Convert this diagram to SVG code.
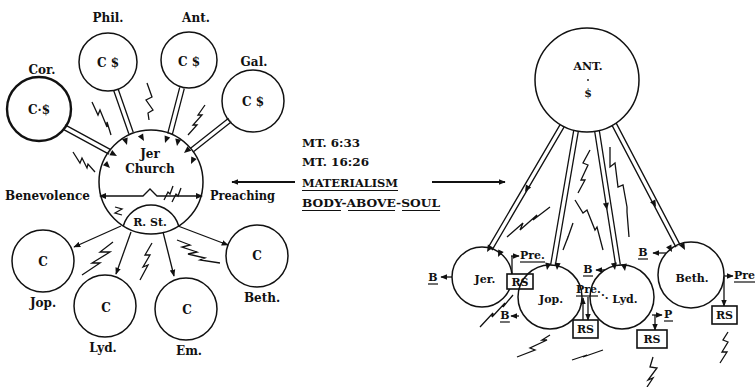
<svg xmlns="http://www.w3.org/2000/svg" xmlns:xlink="http://www.w3.org/1999/xlink" width="755" height="387" viewBox="0 0 755 387">
<style>
.t{font-family:"DejaVu Serif","Liberation Serif",serif;font-weight:bold;font-size:12px;fill:#111}
.s{font-size:11px}
.c{text-anchor:middle}
.n{fill:none;stroke:#111;stroke-width:1.5}
.pb{stroke:#111;stroke-width:6;fill:none}
.pw{stroke:#fff;stroke-width:3.4;fill:none}
.a{stroke:#111;stroke-width:1.3;fill:none;marker-end:url(#ah)}
.z{stroke:#111;stroke-width:1.3;fill:none;stroke-linejoin:miter}
.u{stroke:#111;stroke-width:1.2}
.box{fill:#fff;stroke:#111;stroke-width:1.6}
</style>
<defs>
<marker id="ah" viewBox="0 0 10 10" refX="9" refY="5" markerWidth="7" markerHeight="7" markerUnits="userSpaceOnUse" orient="auto"><path d="M0,1 L10,5 L0,9 Z" fill="#111"/></marker>
<path id="tri" d="M0,0 L-7,-3 L-7,3 Z" fill="#111"/>
</defs>

<g id="connectors">
  <!-- left pipes -->
  <path class="pb" d="M64,127 L110,152 M116,90 L131,133 M182,88 L170,134 M230,120 L192,150"/>
  <path class="pw" d="M64,127 L110,152 M116,90 L131,133 M182,88 L170,134 M230,120 L192,150"/>
  <use href="#tri" transform="translate(117,156) rotate(28)"/>
  <use href="#tri" transform="translate(110,168) rotate(45)"/>
  <use href="#tri" transform="translate(127,145) rotate(72)"/>
  <use href="#tri" transform="translate(144,141) rotate(60)"/>
  <use href="#tri" transform="translate(165,143) rotate(110)"/>
  <use href="#tri" transform="translate(177,146) rotate(100)"/>
  <use href="#tri" transform="translate(184,153) rotate(140)"/>
  <use href="#tri" transform="translate(191,164) rotate(115)"/>
  <!-- horizontal benevolence/preaching line -->
  <path class="z" d="M106,196 L143,196 L150,189 L157,196 L196,196"/>
  <use href="#tri" transform="translate(99,196) rotate(180)"/>
  <use href="#tri" transform="translate(203,196)"/>
  <!-- R.St arrows -->
  <line class="a" x1="121" y1="226" x2="74" y2="247"/>
  <line class="a" x1="131" y1="232" x2="116" y2="274"/>
  <line class="a" x1="163" y1="232" x2="174" y2="276"/>
  <line class="a" x1="178" y1="226" x2="228" y2="245"/>
  <!-- middle arrows -->
  <line class="a" x1="295" y1="182" x2="232" y2="182" style="stroke-width:1.8"/>
  <line class="a" x1="432" y1="182" x2="505" y2="182" style="stroke-width:1.8"/>
  <!-- right pipes -->
  <path class="pb" d="M562,126 L490,249 M576,131 L553,265 M597,131 L618,265 M614,124 L678,246"/>
  <path class="pw" d="M562,126 L490,249 M576,131 L553,265 M597,131 L618,265 M614,124 L678,246"/>
  <use href="#tri" transform="translate(525,192) rotate(120)"/>
  <use href="#tri" transform="translate(607,210) rotate(81)"/>
  <use href="#tri" transform="translate(656,207) rotate(62)"/>
  <use href="#tri" transform="translate(487,252) rotate(120)"/>
  <use href="#tri" transform="translate(498,257) rotate(115)"/>
  <use href="#tri" transform="translate(547,270) rotate(100)"/>
  <use href="#tri" transform="translate(557,270) rotate(95)"/>
  <use href="#tri" transform="translate(615,270) rotate(81)"/>
  <use href="#tri" transform="translate(625,271) rotate(81)"/>
  <use href="#tri" transform="translate(672,252) rotate(62)"/>
  <use href="#tri" transform="translate(685,250) rotate(62)"/>
  <!-- small arrows to B / Pre / P / RS -->
  <line class="a" x1="452" y1="277" x2="441" y2="277"/>
  <line class="a" x1="511" y1="256" x2="519" y2="256"/>
  <line class="z" x1="512" y1="256" x2="512" y2="274"/>
  <line class="a" x1="519" y1="316" x2="511" y2="316"/>
  <line class="a" x1="605" y1="270" x2="596" y2="270"/>
  <line class="a" x1="583" y1="320" x2="583" y2="298"/>
  <line class="a" x1="588" y1="297" x2="588" y2="320"/>
  <line class="a" x1="652" y1="315" x2="662" y2="315"/>
  <line class="a" x1="655" y1="315" x2="655" y2="330"/>
  <line class="a" x1="666" y1="253" x2="653" y2="253"/>
  <line class="a" x1="724" y1="276" x2="733" y2="276"/>
  <line class="a" x1="724" y1="277" x2="724" y2="306"/>
  <!-- lightning bolts -->
  <polyline class="z" points="92,102 98,115 100,110 107,127 107,122 111,135"/>
  <polyline class="z" points="147,83 152,97 146,100 153,110 148,113 149,120"/>
  <polyline class="z" points="205,105 198,115 202,115 193,125 197,125 188,135"/>
  <polyline class="z" points="73,152 80,163 82,158 87,168 88,164 95,172"/>
  <polyline class="z" points="113,242 100,252 110,252 92,263 100,263 82,275"/>
  <polyline class="z" points="152,243 145,255 150,255 143,267 148,265 140,280"/>
  <polyline class="z" points="177,240 190,245 182,247 197,252 188,254 205,258 200,260 220,263"/>
  <polyline class="z" points="115,207 122,209 115,213 122,215"/>
  <polyline class="z" points="164,200 168,192 170,194 173,186"/>
  <polyline class="z" points="172,202 176,194 178,196 181,188"/>
  <polyline class="z" points="590,150 583,163 588,165 581,180 585,180 578,193"/>
  <polyline class="z" points="575,200 583,213 587,210 595,230 597,227 603,250"/>
  <polyline class="z" points="610,147 610,167 615,163 618,187 623,185 627,207 627,212 629,237"/>
  <polyline class="z" points="507,237 523,223 520,230 537,215 533,220 550,207"/>
  <polyline class="z" points="563,250 568,237 567,240 573,223"/>
  <polyline class="z" points="480,327 493,313 492,317 505,303 503,307 513,295"/>
  <polyline class="z" points="517,357 535,350 530,348 547,340 542,340 550,335"/>
  <polyline class="z" points="572,360 587,355 583,357 603,350"/>
  <polyline class="z" points="653,357 650,367 657,368 648,380 653,378 647,387"/>
  <polyline class="z" points="728,332 723,340 728,342 722,352 727,352 720,363"/>
</g>

<g id="jer-church">
  <circle class="n" cx="151" cy="182" r="52"/>
  <text class="t c" x="150" y="158">Jer</text>
  <text class="t c" x="150" y="173">Church</text>
</g>
<g id="r-st">
  <path class="n" d="M123.3,226 A28.8,28.8 0 0 1 178.7,226"/>
  <text class="t c s" x="150" y="226">R. St.</text>
</g>
<g id="benevolence"><text class="t" x="5" y="200" textLength="85" lengthAdjust="spacingAndGlyphs">Benevolence</text></g>
<g id="preaching"><text class="t" x="210" y="200" textLength="65" lengthAdjust="spacingAndGlyphs">Preaching</text></g>
<g id="cor">
  <circle class="n" cx="39" cy="109" r="32" style="stroke-width:2.4"/>
  <text class="t c" x="39" y="114">C·$</text>
  <text class="t c" x="42" y="74">Cor.</text>
</g>
<g id="phil">
  <circle class="n" cx="108" cy="62" r="29"/>
  <text class="t c" x="108" y="67">C $</text>
  <text class="t c" x="108" y="22">Phil.</text>
</g>
<g id="ant">
  <circle class="n" cx="189" cy="60" r="28"/>
  <text class="t c" x="189" y="66">C $</text>
  <text class="t c" x="196" y="22">Ant.</text>
</g>
<g id="gal">
  <circle class="n" cx="253" cy="101" r="31"/>
  <text class="t c" x="253" y="106">C $</text>
  <text class="t c" x="254" y="66">Gal.</text>
</g>
<g id="jop-left">
  <circle class="n" cx="43" cy="261" r="31"/>
  <text class="t c" x="43" y="266">C</text>
  <text class="t c" x="43" y="307">Jop.</text>
</g>
<g id="lyd-left">
  <circle class="n" cx="105" cy="306" r="31"/>
  <text class="t c" x="106" y="312">C</text>
  <text class="t c" x="103" y="352">Lyd.</text>
</g>
<g id="em-left">
  <circle class="n" cx="186" cy="309" r="31"/>
  <text class="t c" x="187" y="314">C</text>
  <text class="t c" x="189" y="355">Em.</text>
</g>
<g id="beth-left">
  <circle class="n" cx="257" cy="256" r="31"/>
  <text class="t c" x="257" y="260">C</text>
  <text class="t c" x="262" y="302">Beth.</text>
</g>

<g id="scripture">
  <text class="t s" x="302" y="147" textLength="58" lengthAdjust="spacingAndGlyphs">MT. 6:33</text>
  <text class="t s" x="302" y="166" textLength="67" lengthAdjust="spacingAndGlyphs">MT. 16:26</text>
  <text class="t s" x="302" y="187" textLength="96" lengthAdjust="spacingAndGlyphs">MATERIALISM</text>
  <line class="u" x1="302" y1="190.5" x2="398" y2="190.5"/>
  <text class="t s" x="302" y="207" textLength="138" lengthAdjust="spacingAndGlyphs">BODY-ABOVE-SOUL</text>
  <line class="u" x1="302" y1="210.5" x2="341" y2="210.5"/>
  <line class="u" x1="348" y1="210.5" x2="395" y2="210.5"/>
  <line class="u" x1="402" y1="210.5" x2="440" y2="210.5"/>
</g>

<g id="ant-right">
  <circle class="n" cx="587" cy="80" r="52"/>
  <text class="t c s" x="588" y="70">ANT.</text>
  <circle cx="588" cy="80" r="0.9" fill="#111"/>
  <text class="t c s" x="588" y="97">$</text>
</g>
<g id="jer-right">
  <circle class="n" cx="482" cy="277" r="30"/>
  <text class="t c s" x="485" y="283">Jer.</text>
  <text class="t c s" x="433" y="281">B</text>
  <line class="u" x1="428" y1="284" x2="438" y2="284"/>
  <text class="t s" x="520" y="259">Pre.</text>
  <line class="u" x1="520" y1="262" x2="545" y2="262"/>
  <rect class="box" x="507" y="274" width="26" height="15"/>
  <text class="t c s" x="520" y="286">RS</text>
</g>
<g id="jop-right">
  <circle class="n" cx="550" cy="297" r="32"/>
  <text class="t c s" x="551" y="303">Jop.</text>
  <text class="t c s" x="505" y="319">B</text>
  <line class="u" x1="500" y1="322" x2="510" y2="322"/>
  <text class="t s" x="576" y="293">Pre.</text>
  <line class="u" x1="576" y1="296" x2="598" y2="296"/>
  <rect class="box" x="573" y="320" width="25" height="18"/>
  <text class="t c s" x="585.5" y="333">RS</text>
</g>
<g id="lyd-right">
  <circle class="n" cx="622" cy="297" r="32"/>
  <text class="t s" x="601" y="299">·.</text>
  <text class="t c s" x="625" y="303">Lyd.</text>
  <text class="t c s" x="588" y="273">B</text>
  <line class="u" x1="583" y1="276" x2="593" y2="276"/>
  <text class="t s" x="664" y="318">P</text>
  <line class="u" x1="664" y1="321" x2="673" y2="321"/>
  <rect class="box" x="637" y="330" width="30" height="18"/>
  <text class="t c s" x="652" y="343">RS</text>
</g>
<g id="beth-right">
  <circle class="n" cx="691" cy="275" r="33"/>
  <text class="t c s" x="692" y="282">Beth.</text>
  <text class="t c s" x="643" y="256">B</text>
  <line class="u" x1="638" y1="259" x2="648" y2="259"/>
  <text class="t s" x="734" y="279">Pre</text>
  <line class="u" x1="734" y1="282" x2="755" y2="282"/>
  <rect class="box" x="712" y="306" width="25" height="18"/>
  <text class="t c s" x="724.5" y="319">RS</text>
</g>
</svg>
